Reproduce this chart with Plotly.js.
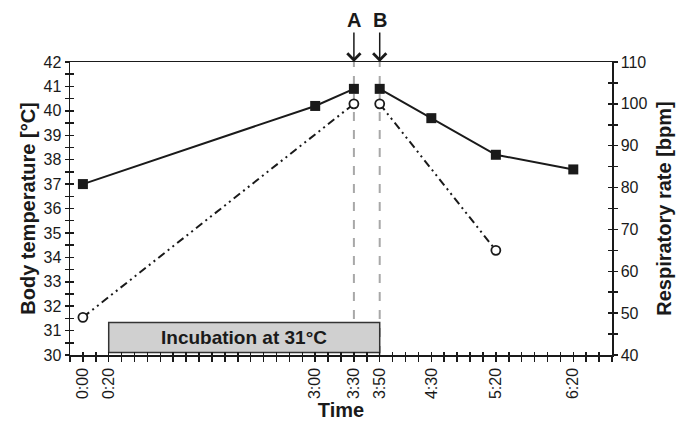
<!DOCTYPE html>
<html>
<head>
<meta charset="utf-8">
<script src="https://cdn.plot.ly/plotly-3.0.1.min.js"></script>
<style>html,body{margin:0;padding:0;background:#fff;}#chart{width:677px;height:429px;}</style>
</head>
<body>
<div id="chart"></div>
<script>
// ---- data ----
const tempTimes = ['0:00', '3:00', '3:30', '3:50', '4:30', '5:20', '6:20'];
const tempValues = [37.0, 40.2, 40.9, 40.9, 39.7, 38.2, 37.6];
const respTimes = ['0:00', '3:30', '3:50', '5:20'];
const respValues = [49, 100, 100, 65];
const xTickLabels = ['0:00', '0:20', '3:00', '3:30', '3:50', '4:30', '5:20', '6:20'];
const eventLabels = ['A', 'B'];
const eventTimes = ['3:30', '3:50'];
const incubationLabel = 'Incubation at 31°C';
const incubationStart = '0:20';
const incubationEnd = '3:50';
const incubationBand = [30.1, 31.33];

// ---- helpers ----
const toMin = t => { const p = t.split(':'); return (+p[0]) * 60 + (+p[1]); };
const breakA = toMin(eventTimes[0]), breakB = toMin(eventTimes[1]);
function withGap(times, vals) {
  const xs = [], ys = [];
  times.forEach((t, i) => {
    const m = toMin(t);
    if (i > 0 && toMin(times[i - 1]) <= breakA && m >= breakB) { xs.push((breakA + breakB) / 2); ys.push(null); }
    xs.push(m); ys.push(vals[i]);
  });
  return { xs, ys };
}
const T = withGap(tempTimes, tempValues);
const R = withGap(respTimes, respValues);

const INK = '#1a1a1a';
const FAM = 'Liberation Sans, Arial, Helvetica, sans-serif';
const xr = [-10, 410];

const traces = [
  { x: R.xs, y: R.ys, yaxis: 'y2', mode: 'lines+markers', connectgaps: false,
    line: { color: INK, width: 2, dash: '8px,4px,2px,4px,2px,4px' },
    marker: { symbol: 'circle', size: 9, color: '#fff', line: { color: INK, width: 1.8 } } },
  { x: T.xs, y: T.ys, mode: 'lines+markers', connectgaps: false,
    line: { color: INK, width: 2 },
    marker: { symbol: 'square', size: 10, color: INK } },
  { x: [], y: [], xaxis: 'x2', yaxis: 'y3', showlegend: false },
  { x: [], y: [], xaxis: 'x2', yaxis: 'y4', showlegend: false }
];

const tickBase = { tickcolor: INK, tickwidth: 1.5, showgrid: false, zeroline: false };

const layout = {
  width: 677, height: 429,
  margin: { l: 70, r: 65, t: 62, b: 74 },
  paper_bgcolor: '#fff', plot_bgcolor: '#fff',
  showlegend: false, hovermode: false,
  font: { family: FAM, color: INK },
  xaxis: Object.assign({}, tickBase, {
    range: xr, tickmode: 'array',
    tickvals: xTickLabels.map(toMin), ticktext: xTickLabels,
    tickangle: -90, ticks: 'outside', ticklen: 5,
    minor: { tick0: 0, dtick: 10, ticks: 'outside', ticklen: 5, tickwidth: 1.5, tickcolor: INK },
    showline: true, linecolor: INK, linewidth: 1.5, mirror: true,
    tickfont: { size: 16, family: FAM, color: INK },
    title: { text: 'Time', font: { size: 20, family: FAM, weight: 'bold', color: INK }, standoff: 4 }
  }),
  xaxis2: Object.assign({}, tickBase, {
    range: xr, overlaying: 'x', anchor: 'y', tick0: 0, dtick: 10, ticks: 'inside', ticklen: 3,
    showticklabels: false, showline: false
  }),
  yaxis: Object.assign({}, tickBase, {
    range: [30, 42], tick0: 30, dtick: 1, ticks: 'outside', ticklen: 4,
    minor: { dtick: 0.5, ticks: 'outside', ticklen: 4, tickwidth: 1.5, tickcolor: INK },
    showline: true, linecolor: INK, linewidth: 1.5,
    tickfont: { size: 16, family: FAM, color: INK },
    title: { text: 'Body temperature [°C]', font: { size: 20, family: FAM, weight: 'bold', color: INK }, standoff: 2 }
  }),
  yaxis2: Object.assign({}, tickBase, {
    range: [40, 110], tick0: 40, dtick: 10, overlaying: 'y', side: 'right', anchor: 'x',
    ticks: 'outside', ticklen: 4,
    minor: { dtick: 5, ticks: 'outside', ticklen: 4, tickwidth: 1.5, tickcolor: INK },
    showline: true, linecolor: INK, linewidth: 1.5,
    tickfont: { size: 16, family: FAM, color: INK },
    title: { text: 'Respiratory rate [bpm]', font: { size: 20, family: FAM, weight: 'bold', color: INK }, standoff: 10 }
  }),
  yaxis3: Object.assign({}, tickBase, {
    range: [30, 42], tick0: 30, dtick: 0.5, overlaying: 'y', side: 'left', anchor: 'x2',
    ticks: 'inside', ticklen: 4, showticklabels: false, showline: false
  }),
  yaxis4: Object.assign({}, tickBase, {
    range: [40, 110], tick0: 40, dtick: 5, overlaying: 'y', side: 'right', anchor: 'x2',
    ticks: 'inside', ticklen: 4, showticklabels: false, showline: false
  }),
  shapes: [
    { type: 'rect', xref: 'x', yref: 'y', layer: 'below',
      x0: toMin(incubationStart), x1: toMin(incubationEnd), y0: incubationBand[0], y1: incubationBand[1],
      fillcolor: '#d0d0d0', line: { color: '#333', width: 1.5 } }
  ].concat(eventTimes.map(t => ({
    type: 'line', xref: 'x', yref: 'paper', layer: 'below',
    x0: toMin(t), x1: toMin(t), y0: 0, y1: 1,
    line: { color: '#a8a8a8', width: 2, dash: 'dash' }
  }))),
  annotations: [
    { x: (toMin(incubationStart) + toMin(incubationEnd)) / 2, y: (incubationBand[0] + incubationBand[1]) / 2,
      xref: 'x', yref: 'y', text: incubationLabel, showarrow: false,
      font: { size: 19, family: FAM, weight: 'bold', color: INK } }
  ].concat(eventTimes.map((t, i) => ({
    x: toMin(t), y: 1, xref: 'x', yref: 'paper', text: eventLabels[i],
    showarrow: true, ax: 0, ay: -42, arrowhead: 4, arrowsize: 1.7, arrowwidth: 1.5, arrowcolor: INK,
    standoff: 0, font: { size: 20, family: FAM, weight: 'bold', color: INK }
  })))
};

Plotly.newPlot('chart', traces, layout, { displayModeBar: false, staticPlot: true });
</script>
</body>
</html>
